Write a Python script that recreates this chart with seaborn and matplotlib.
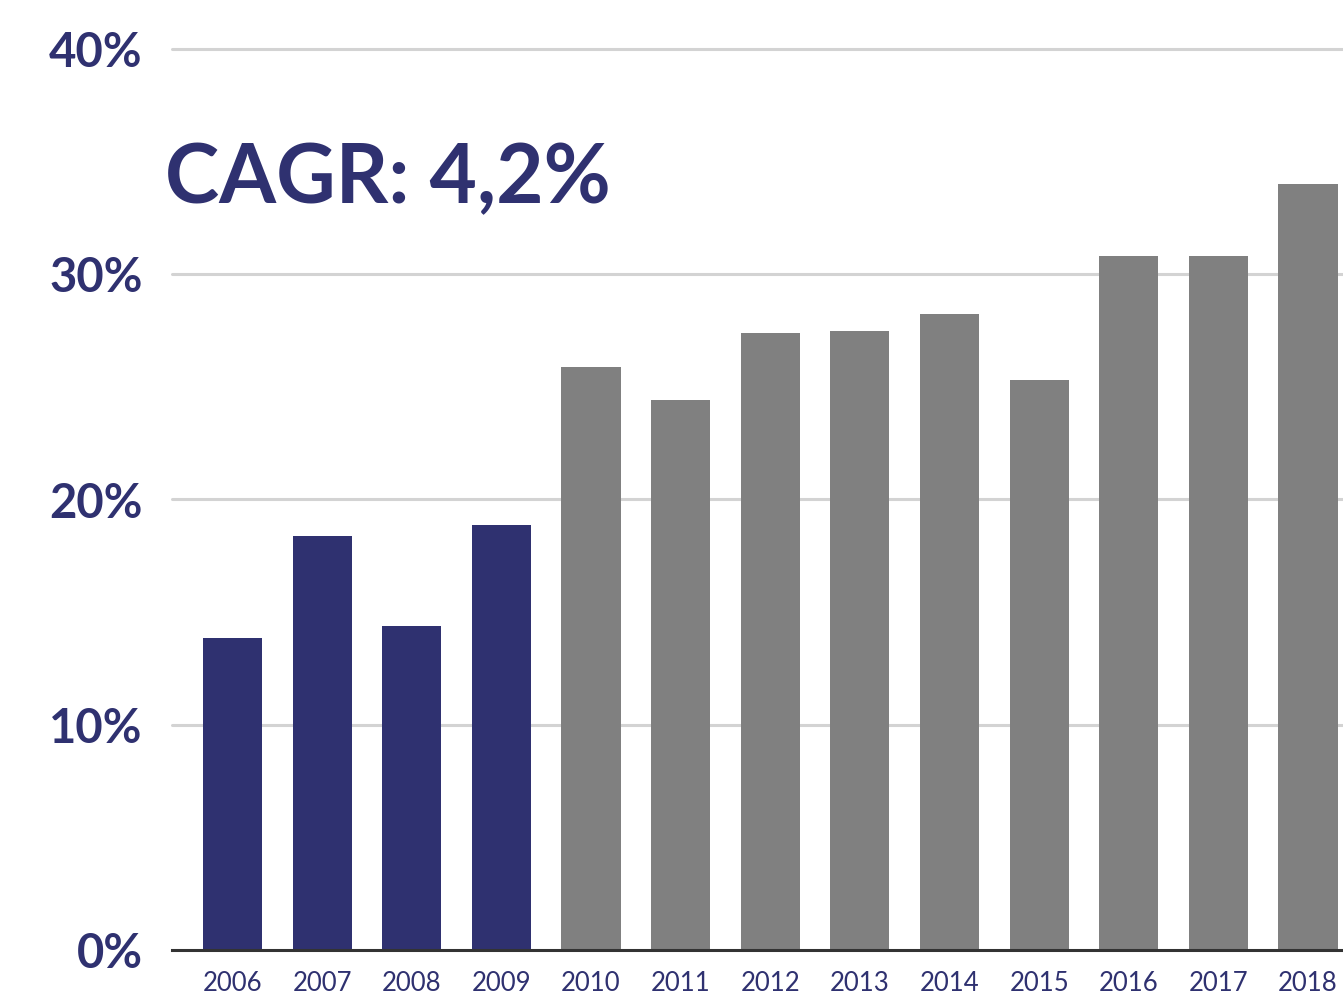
import matplotlib
matplotlib.use("Agg")
import matplotlib.pyplot as plt
import seaborn as sns
import pandas as pd

years = ["2006", "2007", "2008", "2009", "2010", "2011", "2012",
         "2013", "2014", "2015", "2016", "2017", "2018"]
values = [13.85, 18.4, 14.4, 18.85, 25.9, 24.4, 27.4,
          27.5, 28.25, 25.3, 30.8, 30.8, 34.0]
groups = ["early"] * 4 + ["late"] * 9
y_ticks = [0, 10, 20, 30, 40]
y_tick_labels = ["0%", "10%", "20%", "30%", "40%"]
annotation = "CAGR: 4,2%"

NAVY = "#2F3170"
GRAY = "#808080"

sns.set_theme(style="white")
plt.rcParams["font.family"] = ["Lato", "DejaVu Sans"]

df = pd.DataFrame({"year": years, "value": values, "group": groups})

fig = plt.figure(figsize=(13.43, 9.96), dpi=100)
ax = fig.add_axes([172 / 1343, 1 - 950 / 996, 1 - 172 / 1343, (950 - 49) / 996])

sns.barplot(data=df, x="year", y="value", hue="group",
            palette={"early": NAVY, "late": GRAY}, dodge=False,
            width=0.66, legend=False, ax=ax, saturation=1, zorder=3,
            edgecolor="none", linewidth=0)

ax.set_xlim(-0.675, 12.39)
ax.set_ylim(0, 40)
ax.set_yticks(y_ticks)
ax.set_yticklabels(y_tick_labels)
ax.set_xlabel("")
ax.set_ylabel("")

for y in y_ticks[1:]:
    ax.axhline(y, color="#D3D3D3", lw=2.2, zorder=1, clip_on=False)

for s in ["top", "right", "left"]:
    ax.spines[s].set_visible(False)
ax.spines["bottom"].set_color("#333333")
ax.spines["bottom"].set_linewidth(2.2)
ax.spines["bottom"].set_zorder(4)

ax.tick_params(axis="y", length=0, pad=21, labelsize=34, labelcolor=NAVY)
ax.tick_params(axis="x", length=0, pad=15, labelsize=18.5, labelcolor=NAVY)
for t in ax.get_yticklabels():
    t.set_fontweight("bold")

fig.text(165 / 1343, 1 - 203 / 996, annotation, fontsize=59, fontweight="bold",
         color=NAVY, ha="left", va="baseline")

fig.savefig("out.png", dpi=100)
